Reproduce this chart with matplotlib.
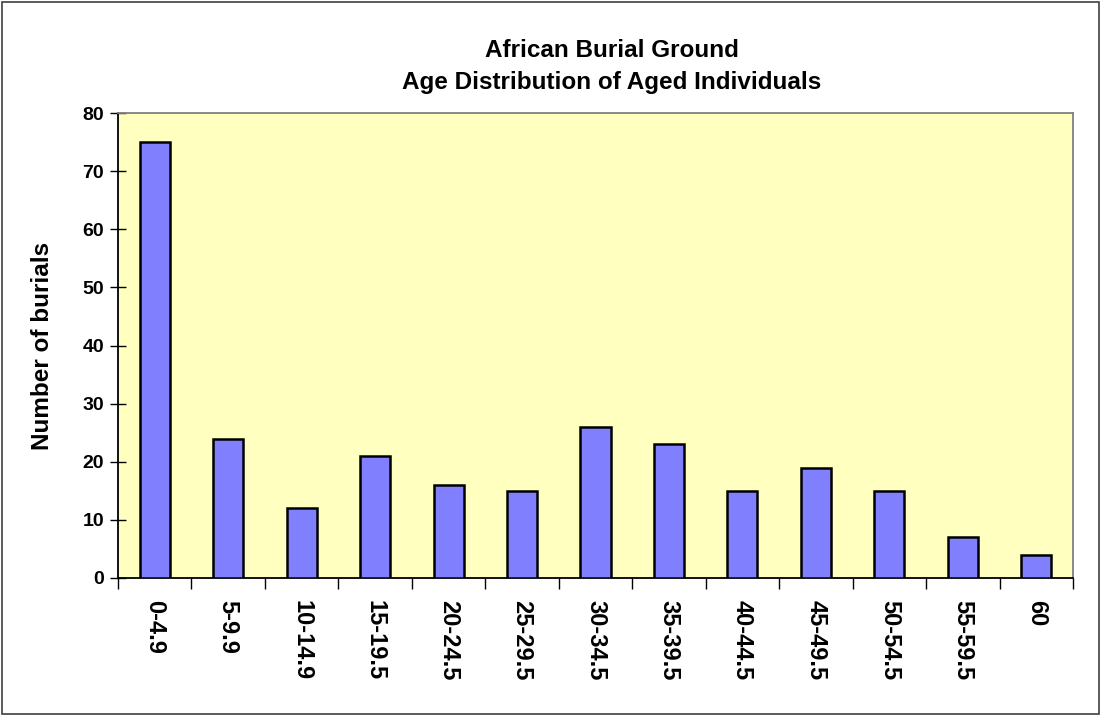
import matplotlib
matplotlib.use("Agg")
import matplotlib.pyplot as plt
from matplotlib.patches import Rectangle

categories = ["0-4.9", "5-9.9", "10-14.9", "15-19.5", "20-24.5", "25-29.5", "30-34.5",
              "35-39.5", "40-44.5", "45-49.5", "50-54.5", "55-59.5", "60"]
counts = [75, 24, 12, 21, 16, 15, 26, 23, 15, 19, 15, 7, 4]
yticks = [0, 10, 20, 30, 40, 50, 60, 70, 80]
title_lines = ["African Burial Ground", "Age Distribution of Aged Individuals"]

plt.rcParams['font.family'] = ['Liberation Sans', 'DejaVu Sans']
plt.rcParams['font.weight'] = 'bold'

W, H = 1102, 715
fig = plt.figure(figsize=(W / 100, H / 100), dpi=100)
fig.patch.set_facecolor('white')
fig.add_artist(Rectangle((2 / W, 1 / H), (W - 5) / W, (H - 3) / H, transform=fig.transFigure,
                         fill=False, edgecolor='#404040', linewidth=1.2))

left, right, top, bottom = 118, 1073, 113, 578
ax = fig.add_axes([left / W, 1 - bottom / H, (right - left) / W, (bottom - top) / H])
ax.set_facecolor('#FFFFC0')

x = list(range(len(categories)))
ax.bar(x, counts, width=0.41, color='#8080FF', edgecolor='black', linewidth=1.8, zorder=3)
ax.set_xlim(-0.5, len(categories) - 0.5)
ax.set_ylim(0, 80)

ax.set_yticks(yticks)
ax.set_yticklabels([str(v) for v in yticks], fontsize=14, fontweight='bold')
ax.tick_params(axis='y', direction='inout', length=12, width=1, pad=4)

ax.set_xticks([i - 0.5 for i in range(len(categories) + 1)])
ax.set_xticklabels([])
ax.tick_params(axis='x', direction='out', length=8, width=1)
ax.set_xticks(x, minor=True)
ax.set_xticklabels(categories, minor=True, rotation=270, fontsize=17, fontweight='bold')
ax.tick_params(axis='x', which='minor', length=0, pad=16)

ax.spines['left'].set_color('black')
ax.spines['bottom'].set_color('black')
ax.spines['top'].set_color('#808080')
ax.spines['right'].set_color('#808080')
for s in ax.spines.values():
    s.set_linewidth(1.3)

fig.text(43 / W, 1 - 346 / H, "Number of burials", rotation=90, ha='center', va='center',
         fontsize=17.5, fontweight='bold')
fig.text(612 / W, 1 - 57 / H, title_lines[0], ha='center', va='baseline',
         fontsize=17.5, fontweight='bold')
fig.text(612 / W, 1 - 89 / H, title_lines[1], ha='center', va='baseline',
         fontsize=17.5, fontweight='bold')

fig.savefig("out.png", dpi=100)
